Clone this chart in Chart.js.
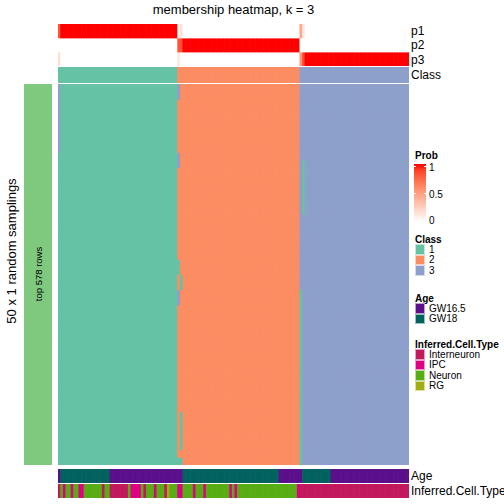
<!DOCTYPE html>
<html>
<head>
<meta charset="utf-8">
<script src="https://cdn.jsdelivr.net/npm/chart.js@4.4.0/dist/chart.umd.min.js"></script>
<style>
body { margin: 0; background: #fff; }
#wrap { position: relative; width: 504px; height: 504px; overflow: hidden; font-family: "Liberation Sans", Arial, sans-serif; color: #000; }
#wrap canvas { position: absolute; }
.lbl { position: absolute; white-space: nowrap; font-size: 12px; line-height: 14px; }
.lg { position: absolute; white-space: nowrap; font-size: 10px; line-height: 12px; }
.lgt { font-weight: bold; }
.sw { position: absolute; left: 415px; width: 10px; box-sizing: border-box; border: 1px solid rgba(255,255,255,0.6); }
.rot { position: absolute; white-space: nowrap; transform: translate(-50%, -50%) rotate(-90deg); }
</style>
</head>
<body>
<div id="wrap">
  <div class="lbl" style="left:58px;top:2px;width:351px;text-align:center;font-size:13px;line-height:16px;">membership heatmap, k = 3</div>

  <canvas id="probChart" width="351" height="42" style="left:58px;top:24px"></canvas>
  <canvas id="classChart" width="351" height="16" style="left:58px;top:67px"></canvas>
  <canvas id="bodyChart" width="351" height="381" style="left:58px;top:84px"></canvas>
  <canvas id="ageChart" width="351" height="14" style="left:58px;top:469px"></canvas>
  <canvas id="cellChart" width="351" height="14" style="left:58px;top:484px"></canvas>

  <div class="lbl" style="left:411px;top:24px">p1</div>
  <div class="lbl" style="left:411px;top:38px">p2</div>
  <div class="lbl" style="left:411px;top:53px">p3</div>
  <div class="lbl" style="left:411px;top:68px">Class</div>
  <div class="lbl" style="left:411px;top:469px">Age</div>
  <div class="lbl" style="left:411px;top:484px">Inferred.Cell.Type</div>

  <div style="position:absolute;left:24px;top:84px;width:28px;height:381px;background:#7FC97F"></div>
  <div class="rot" style="left:38px;top:274px;font-size:9.5px">top 578 rows</div>
  <div class="rot" style="left:11px;top:251px;font-size:13px">50 x 1 random samplings</div>

  <div id="legend"></div>
</div>

<script>
/******************************************************************
DATA
******************************************************************/

// number of columns (samples) in each class, left to right
var clusterSizes = [46, 47, 42];
var classNames = ["1", "2", "3"];
var classColors = ["#66C2A5", "#FC8D62", "#8DA0CB"];
var nSamplings = 50;

// body cells that do not match the column class: [column, first row, last row, class]
var bodyOdd = [
  [0, 0, 8, 3],
  [46, 0, 1, 3], [46, 9, 10, 3], [46, 23, 24, 1], [46, 27, 28, 3], [46, 49, 49, 1],
  [47, 25, 26, 1], [47, 43, 47, 1], [47, 49, 49, 1],
  [93, 27, 49, 1],
  [94, 10, 16, 1]
];

var ageNames = ["GW16.5", "GW18"];
var ageColors = ["#5C0F8B", "#02625F"];
// runs of [age index, number of columns]
var ageRuns = [[0, 1], [1, 19], [0, 28], [1, 37], [0, 9], [1, 11], [0, 30]];

var cellNames = ["Interneuron", "IPC", "Neuron", "RG"];
var cellColors = ["#C2185E", "#DE0083", "#58AD14", "#A3AD12"];
// runs of [cell type index, number of columns]
var cellRuns = [
  [0, 1], [2, 1], [1, 1], [2, 2], [1, 1], [2, 2], [1, 2], [2, 7], [0, 1], [2, 2],
  [0, 7], [2, 1], [1, 4], [2, 1], [0, 1], [2, 3], [1, 1], [2, 3], [0, 1], [3, 1],
  [2, 3], [1, 2], [2, 4], [1, 1], [2, 3], [1, 1], [2, 9], [1, 1], [2, 1], [1, 1],
  [2, 23], [1, 1], [0, 42]
];

var probTicks = ["1", "0.5", "0"];

/******************************************************************
HELPERS
******************************************************************/

// white -> red in LAB space, like colorRamp2
function probColor(t) {
  var L = 100 - 46.76 * t, A = 80.09 * t, B = 67.2 * t;
  var y = (L + 16) / 116, x = A / 500 + y, z = y - B / 200;
  function f(v) { return v * v * v > 0.008856 ? v * v * v : (v - 16 / 116) / 7.787; }
  x = 0.95047 * f(x); y = f(y); z = 1.08883 * f(z);
  var r = x * 3.2406 - y * 1.5372 - z * 0.4986;
  var g = -x * 0.9689 + y * 1.8758 + z * 0.0415;
  var b = x * 0.0557 - y * 0.204 + z * 1.057;
  function c(v) {
    v = v > 0.0031308 ? 1.055 * Math.pow(v, 1 / 2.4) - 0.055 : 12.92 * v;
    return Math.round(Math.max(0, Math.min(1, v)) * 255);
  }
  return "rgb(" + c(r) + "," + c(g) + "," + c(b) + ")";
}

function expandRuns(runs) {
  var out = [];
  runs.forEach(function (run) {
    for (var i = 0; i < run[1]; i++) out.push(run[0]);
  });
  return out;
}

/******************************************************************
BUILD MATRIX
******************************************************************/

var colClass = [];
clusterSizes.forEach(function (n, k) {
  for (var i = 0; i < n; i++) colClass.push(k + 1);
});
var nCols = colClass.length;
var labels = colClass.map(function (c, i) { return "s" + (i + 1); });

var body = [];
for (var r = 0; r < nSamplings; r++) body.push(colClass.slice());
bodyOdd.forEach(function (d) {
  for (var r = d[1]; r <= d[2]; r++) body[r][d[0]] = d[3];
});

// membership probability = share of samplings giving each class
var prob = [[], [], []];
for (var c = 0; c < nCols; c++) {
  var counts = [0, 0, 0];
  for (var r = 0; r < nSamplings; r++) counts[body[r][c] - 1]++;
  for (var k = 0; k < 3; k++) prob[k].push(counts[k] / nSamplings);
}

/******************************************************************
CHARTS
******************************************************************/

function makeHeat(id, rowColors) {
  var datasets = rowColors.map(function (cols) {
    return {
      data: cols.map(function () { return 1; }),
      backgroundColor: cols,
      borderWidth: 0,
      barPercentage: 1,
      categoryPercentage: 1
    };
  });
  return new Chart(document.getElementById(id), {
    type: "bar",
    data: { labels: labels, datasets: datasets },
    options: {
      responsive: false,
      animation: false,
      events: [],
      layout: { padding: 0 },
      plugins: { legend: { display: false }, tooltip: { enabled: false } },
      scales: {
        x: { display: false, stacked: true },
        y: { display: false, stacked: true, min: 0, max: rowColors.length, reverse: true }
      }
    }
  });
}

makeHeat("probChart", prob.map(function (p) { return p.map(probColor); }));
makeHeat("classChart", [colClass.map(function (k) { return classColors[k - 1]; })]);
makeHeat("bodyChart", body.map(function (row) {
  return row.map(function (k) { return classColors[k - 1]; });
}));
makeHeat("ageChart", [expandRuns(ageRuns).map(function (a) { return ageColors[a]; })]);
makeHeat("cellChart", [expandRuns(cellRuns).map(function (a) { return cellColors[a]; })]);

/******************************************************************
LEGEND
******************************************************************/

var lg = document.getElementById("legend");
var html = "";

html += "<div class='lg lgt' style='left:415px;top:150px'>Prob</div>";
var stops = [];
for (var i = 0; i <= 10; i++) stops.push(probColor(1 - i / 10) + " " + (i * 10) + "%");
html += "<div style='position:absolute;left:414px;top:164px;width:12px;height:58px;background:linear-gradient(" + stops.join(",") + ")'></div>";
[166, 193].forEach(function (y) {
  html += "<div style='position:absolute;left:414px;top:" + y + "px;width:2px;height:1px;background:#fff'></div>";
  html += "<div style='position:absolute;left:424px;top:" + y + "px;width:2px;height:1px;background:#fff'></div>";
});
probTicks.forEach(function (t, i) {
  html += "<div class='lg' style='left:429px;top:" + (162 + i * 26.5) + "px'>" + t + "</div>";
});

function block(title, names, colors, top) {
  var s = "<div class='lg lgt' style='left:415px;top:" + top + "px'>" + title + "</div>";
  names.forEach(function (n, i) {
    var y = top + 10 + i * 10.6;
    s += "<div class='sw' style='top:" + y + "px;height:10.6px;background:" + colors[i] + "'></div>";
    s += "<div class='lg' style='left:429px;top:" + (y - 0.5) + "px'>" + n + "</div>";
  });
  return s;
}
html += block("Class", classNames, classColors, 234);
html += block("Age", ageNames, ageColors, 293);
html += block("Inferred.Cell.Type", cellNames, cellColors, 339);
lg.innerHTML = html;
</script>
</body>
</html>
